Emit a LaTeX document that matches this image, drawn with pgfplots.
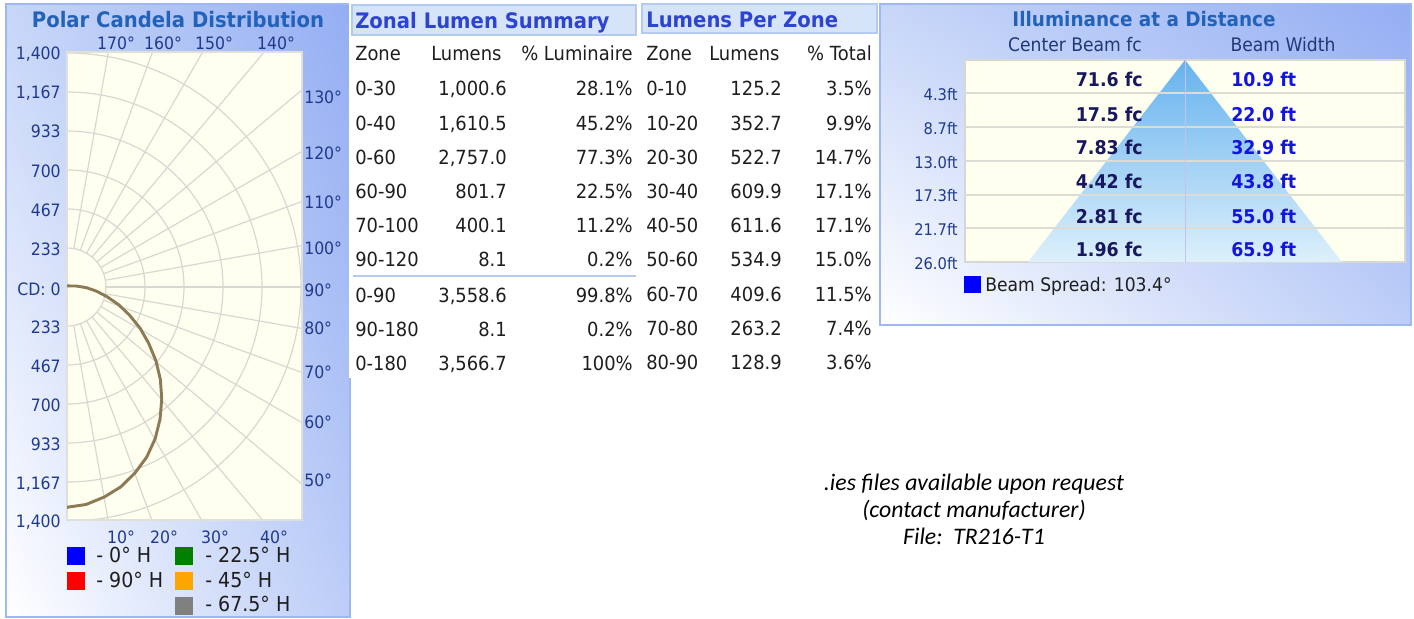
\documentclass[border=0pt]{standalone}
\usepackage{fontspec}
\setmainfont{DejaVu Sans}[FakeStretch=0.92]
\newfontfamily\carl{Carlito}
\usepackage{pgfplots}
\pgfplotsset{compat=1.18}
\usepackage{pgfplotstable}
\usetikzlibrary{shadings}
\definecolor{pLU}{HTML}{C7D6F8}
\definecolor{pRU}{HTML}{94AEF3}
\definecolor{pRL}{HTML}{BCCDF7}
\definecolor{panelb}{HTML}{9FB8F0}
\definecolor{cream}{HTML}{FFFFF0}
\definecolor{gridc}{HTML}{D8D8D2}
\definecolor{curvec}{HTML}{8C7A56}
\definecolor{titleblue}{HTML}{2362B8}
\definecolor{tabtitle}{HTML}{2C44CF}
\definecolor{tabbox}{HTML}{D6E4FA}
\definecolor{tabboxb}{HTML}{B4CAEE}
\definecolor{navy}{HTML}{1F3A8C}
\definecolor{txt}{HTML}{1E1E1E}
\definecolor{valnavy}{HTML}{181860}
\definecolor{valblue}{HTML}{1414E0}
\definecolor{triTop}{HTML}{66B2EE}
\definecolor{triBot}{HTML}{DDF0FB}
\definecolor{rowline}{HTML}{DCDCD4}
\definecolor{hdr}{HTML}{203878}
\definecolor{legorange}{HTML}{FFA500}
\definecolor{leggreen}{HTML}{008000}
\definecolor{leggray}{HTML}{808080}

\pgfplotstableread{
ang cd
0 1324
5 1312
10 1282
15 1244
20 1190
25 1129
30 1055
35 971
40 882
45 790
50 694
55 596
60 505
65 413
70 330
75 249
80 180
85 118
90 55
95 4
180 0
}\candela

\newcommand{\tb}{\fontsize{14.6}{17}\selectfont}
\newcommand{\ax}{\fontsize{12.8}{15}\selectfont}
\tikzset{dn/.style={yshift=-3pt}}

\begin{document}
\begin{tikzpicture}[x=0.75pt,y=0.75pt]
\path[use as bounding box] (0,0) rectangle (1414,-618);
\fill[white] (0,0) rectangle (1414,-618);

% ---------------- left panel
\shade[upper left=pLU, upper right=pRU, lower left=white, lower right=pRL] (6,-4) rectangle (350,-617);
\draw[panelb, line width=1.1pt] (6,-4) rectangle (350,-617);
\node[font=\fontsize{16}{19}\selectfont\bfseries, text=titleblue] at (178,-20) {Polar Candela Distribution};

\fill[cream] (67,-52) rectangle (302,-520);
\begin{scope}
\clip (67,-52) rectangle (302,-520);
\foreach \r in {1,...,6} \draw[gridc, line width=0.9pt] (67,-287) circle[radius=\r*39];
\foreach \a in {10,20,...,170} \draw[gridc, line width=0.9pt] (67,-287) ++(-90+\a:39) -- ++(-90+\a:420);
\end{scope}
\draw[gridc!80!white, line width=0.8pt] (67,-52) rectangle (302,-520);

\begin{axis}[at={(50.25pt,-390pt)}, anchor=south west, scale only axis,
  width=176.25pt, height=351pt, xmin=0, xmax=1406, ymin=-1400, ymax=1400,
  hide axis]
\addplot[curvec, line width=2.2pt, line join=round] table[
  x expr={\thisrow{cd}*sin(\thisrow{ang})},
  y expr={-\thisrow{cd}*cos(\thisrow{ang})}] {\candela};
\end{axis}

% left labels
\begin{scope}[every node/.style={font=\ax, text=navy, anchor=mid east, inner sep=0, dn}]
\node at (61,-52) {1,400};
\node at (61,-91) {1,167};
\node at (61,-130) {933};
\node at (61,-170) {700};
\node at (61,-209) {467};
\node at (61,-248) {233};
\node at (61,-288) {CD: 0};
\node at (61,-326) {233};
\node at (61,-365) {467};
\node at (61,-404) {700};
\node at (61,-443) {933};
\node at (61,-482) {1,167};
\node at (61,-520) {1,400};
\end{scope}
% right labels
\begin{scope}[every node/.style={font=\ax, text=navy, anchor=mid west, inner sep=0, dn}]
\node at (304,-96) {130°};
\node at (304,-152) {120°};
\node at (304,-201) {110°};
\node at (304,-247) {100°};
\node at (304,-289) {90°};
\node at (304,-327) {80°};
\node at (304,-371) {70°};
\node at (304,-421) {60°};
\node at (304,-479) {50°};
\end{scope}
% top and bottom labels
\begin{scope}[every node/.style={font=\ax, text=navy, anchor=mid, inner sep=0, dn}]
\node at (116,-42) {170°};
\node at (163,-42) {160°};
\node at (214,-42) {150°};
\node at (276,-42) {140°};
\node at (121,-536) {10°};
\node at (164,-536) {20°};
\node at (215,-536) {30°};
\node at (274,-536) {40°};
\end{scope}
% legend
\fill[blue] (67,-547) rectangle (85,-565);
\fill[red] (67,-572) rectangle (85,-590);
\fill[leggreen] (175,-547) rectangle (193,-565);
\fill[legorange] (175,-572) rectangle (193,-590);
\fill[leggray] (175,-597) rectangle (193,-615);
\begin{scope}[every node/.style={font=\fontsize{15.5}{18}\selectfont, text=txt, anchor=mid west, inner sep=0, dn}]
\node at (96,-555) {- 0° H};
\node at (96,-580) {- 90° H};
\node at (205,-555) {- 22.5° H};
\node at (205,-580) {- 45° H};
\node at (205,-604) {- 67.5° H};
\end{scope}

% ---------------- tables
\fill[white] (349,0) rectangle (879,-378);
\filldraw[fill=tabbox, draw=tabboxb, line width=1pt] (352,-5) rectangle (636,-35);
\node[font=\fontsize{16}{19}\selectfont\bfseries, text=tabtitle, anchor=mid west, inner sep=0, dn] at (355,-21) {Zonal Lumen Summary};
\filldraw[fill=tabbox, draw=tabboxb, line width=1pt] (642,-4) rectangle (877,-33);
\node[font=\fontsize{16}{19}\selectfont\bfseries, text=tabtitle, anchor=mid west, inner sep=0, dn] at (646,-20) {Lumens Per Zone};
\draw[tabboxb, line width=1.4pt] (353,-276) -- (636,-276);

\begin{scope}[every node/.style={font=\tb, text=txt, inner sep=0, dn}]
\node[anchor=mid west] at (355,-53) {Zone};
\node[anchor=mid west] at (431,-53) {Lumens};
\node[anchor=mid east] at (633,-53) {\% Luminaire};
\node[anchor=mid west] at (646,-53) {Zone};
\node[anchor=mid west] at (709,-53) {Lumens};
\node[anchor=mid east] at (872,-53) {\% Total};
\foreach \y/\z/\l/\p in {88/0-30/{1,000.6}/28.1, 123/0-40/{1,610.5}/45.2, 157/0-60/{2,757.0}/77.3, 191/60-90/801.7/22.5, 225/70-100/400.1/11.2, 259/90-120/8.1/0.2, 295/0-90/{3,558.6}/99.8, 329/90-180/8.1/0.2}{
  \node[anchor=mid west] at (355,-\y) {\z};
  \node[anchor=mid east] at (507,-\y) {\l};
  \node[anchor=mid east] at (633,-\y) {\p\%};
}
\node[anchor=mid west] at (355,-363) {0-180};
\node[anchor=mid east] at (507,-363) {3,566.7};
\node[anchor=mid east] at (633,-363) {100\%};
\foreach \y/\z/\l/\p in {88/0-10/125.2/3.5, 123/10-20/352.7/9.9, 157/20-30/522.7/14.7, 191/30-40/609.9/17.1, 225/40-50/611.6/17.1, 259/50-60/534.9/15.0, 294/60-70/409.6/11.5, 328/70-80/263.2/7.4, 362/80-90/128.9/3.6}{
  \node[anchor=mid west] at (646,-\y) {\z};
  \node[anchor=mid east] at (782,-\y) {\l};
  \node[anchor=mid east] at (872,-\y) {\p\%};
}
\end{scope}

% ---------------- illuminance panel
\shade[upper left=pLU, upper right=pRU, lower left=white, lower right=pRL] (880,-4) rectangle (1411,-325);
\draw[panelb, line width=1.1pt] (880,-4) rectangle (1411,-325);
\node[font=\fontsize{15}{18}\selectfont\bfseries, text=titleblue] at (1144,-19) {Illuminance at a Distance};
\node[font=\fontsize{14}{17}\selectfont, text=hdr] at (1075,-45) {Center Beam fc};
\node[font=\fontsize{14}{17}\selectfont, text=hdr] at (1283,-45) {Beam Width};
\filldraw[fill=cream, draw=gridc, line width=0.9pt] (965,-60) rectangle (1405,-262);
\shade[top color=triTop, bottom color=triBot] (1185,-60) -- (1342,-262) -- (1028,-262) -- cycle;
\foreach \y in {93,127,161,195,228} \draw[rowline, line width=1.4pt] (965,-\y) -- (1405,-\y);
\draw[rowline!70!blue!60!white, line width=0.7pt] (1185,-60) -- (1185,-262);
\begin{scope}[every node/.style={font=\fontsize{14.2}{17}\selectfont\bfseries, inner sep=0, dn}]
\foreach \y/\c/\w in {79/71.6/10.9, 114/17.5/22.0, 147/7.83/32.9, 181/4.42/43.8, 216/2.81/55.0, 249/1.96/65.9}{
  \node[anchor=mid east, text=valnavy] at (1143,-\y) {\c\ fc};
  \node[anchor=mid west, text=valblue] at (1231,-\y) {\w\ ft};
}
\end{scope}
\begin{scope}[every node/.style={font=\fontsize{12}{14}\selectfont, text=navy, anchor=mid east, inner sep=0, dn}]
\node at (958,-93) {4.3ft};
\node at (958,-127) {8.7ft};
\node at (958,-161) {13.0ft};
\node at (958,-194) {17.3ft};
\node at (958,-228) {21.7ft};
\node at (958,-262) {26.0ft};
\end{scope}
\fill[blue] (964,-276) rectangle (981,-293);
\node[font=\fontsize{14}{17}\selectfont, text=txt, anchor=mid west, inner sep=0, dn] at (985,-284) {Beam Spread: 103.4°};

% ---------------- note
\begin{scope}[every node/.style={font=\carl\itshape\fontsize{17.8}{21}\selectfont, text=black, anchor=mid, inner sep=0, dn}]
\node at (974,-483) {.ies files available upon request};
\node at (974,-510) {(contact manufacturer)};
\node at (974,-537) {File:\ \ TR216-T1};
\end{scope}
\end{tikzpicture}
\end{document}
